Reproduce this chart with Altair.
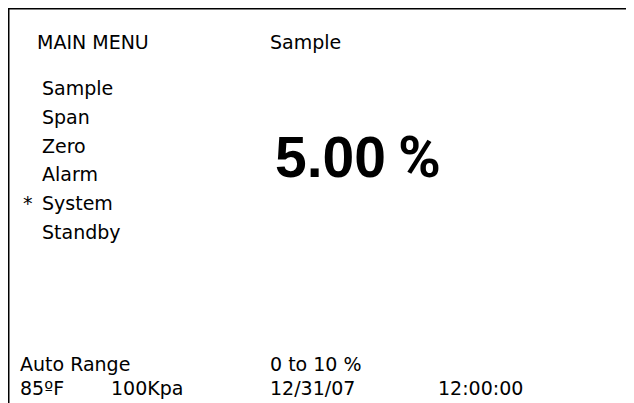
import altair as alt
import pandas as pd

# ---- content ----
header_left = "MAIN MENU"
header_right = "Sample"
menu_items = ["Sample", "Span", "Zero", "Alarm", "System", "Standby"]
selected_item = "System"
reading_value = 5.00
reading_unit = "%"
range_label = "Auto Range"
range_text = "0 to 10 %"
status_items = ["85ºF", "100Kpa", "12/31/07", "12:00:00"]

# ---- layout (chart coordinates = page - 8) ----
W, H = 618, 395
OFF = 8
col1_x = 37 - OFF
col2_x = 270 - OFF
menu_x = 42 - OFF
marker_x = 23 - OFF
header_y = 49 - OFF
menu_y0 = 95 - OFF
menu_dy = 28.8
range_y = 371 - OFF
status_y = 395 - OFF
status_x = [20 - OFF, 111 - OFF, 270 - OFF, 438 - OFF]
big_x = 275 - OFF
unit_x = 398 - OFF
big_y = 177 - OFF

small_rows = []
small_rows.append({"t": header_left, "x": col1_x, "y": header_y})
small_rows.append({"t": header_right, "x": col2_x, "y": header_y})
for i, m in enumerate(menu_items):
    small_rows.append({"t": m, "x": menu_x, "y": menu_y0 + i * menu_dy})
    if m == selected_item:
        small_rows.append({"t": "*", "x": marker_x, "y": menu_y0 + i * menu_dy})
small_rows.append({"t": range_label, "x": status_x[0], "y": range_y})
small_rows.append({"t": range_text, "x": col2_x, "y": range_y})
for sx, s in zip(status_x, status_items):
    small_rows.append({"t": s, "x": sx, "y": status_y})
small_df = pd.DataFrame(small_rows)

big_df = pd.DataFrame([{"t": f"{reading_value:.2f}", "x": big_x, "y": big_y}])
unit_df = pd.DataFrame([{"t": reading_unit, "x": unit_x, "y": big_y}])

xs = alt.Scale(domain=[0, W], range=[0, W])
ys = alt.Scale(domain=[0, H], range=[0, H])

def enc(ch):
    return ch.encode(
        x=alt.X("x:Q", scale=xs, axis=None),
        y=alt.Y("y:Q", scale=ys, axis=None),
        text="t:N",
    )

small = enc(alt.Chart(small_df).mark_text(
    font="DejaVu Sans", fontSize=19, align="left", baseline="alphabetic", color="black"))
big = enc(alt.Chart(big_df).mark_text(
    font="Liberation Sans", fontSize=57, fontWeight="bold", align="left",
    baseline="alphabetic", color="black"))
unit = enc(alt.Chart(unit_df).mark_text(
    font="Roboto", fontSize=58, fontWeight="bold", align="left",
    baseline="alphabetic", color="black"))

border_df = pd.DataFrame([{"x": 0, "x2": W, "y": 0, "y2": 0},
                          {"x": 0, "x2": 0, "y": 0, "y2": H}])
border = alt.Chart(border_df).mark_rule(color="black", strokeWidth=3).encode(
    x=alt.X("x:Q", scale=xs, axis=None), x2="x2:Q",
    y=alt.Y("y:Q", scale=ys, axis=None), y2="y2:Q")

chart = alt.layer(border, small, big, unit).properties(
    width=W, height=H, padding=0, autosize="none", background="white"
).configure_view(stroke=None)

chart.save("out.html", embed_options={"renderer": "svg", "actions": False})
